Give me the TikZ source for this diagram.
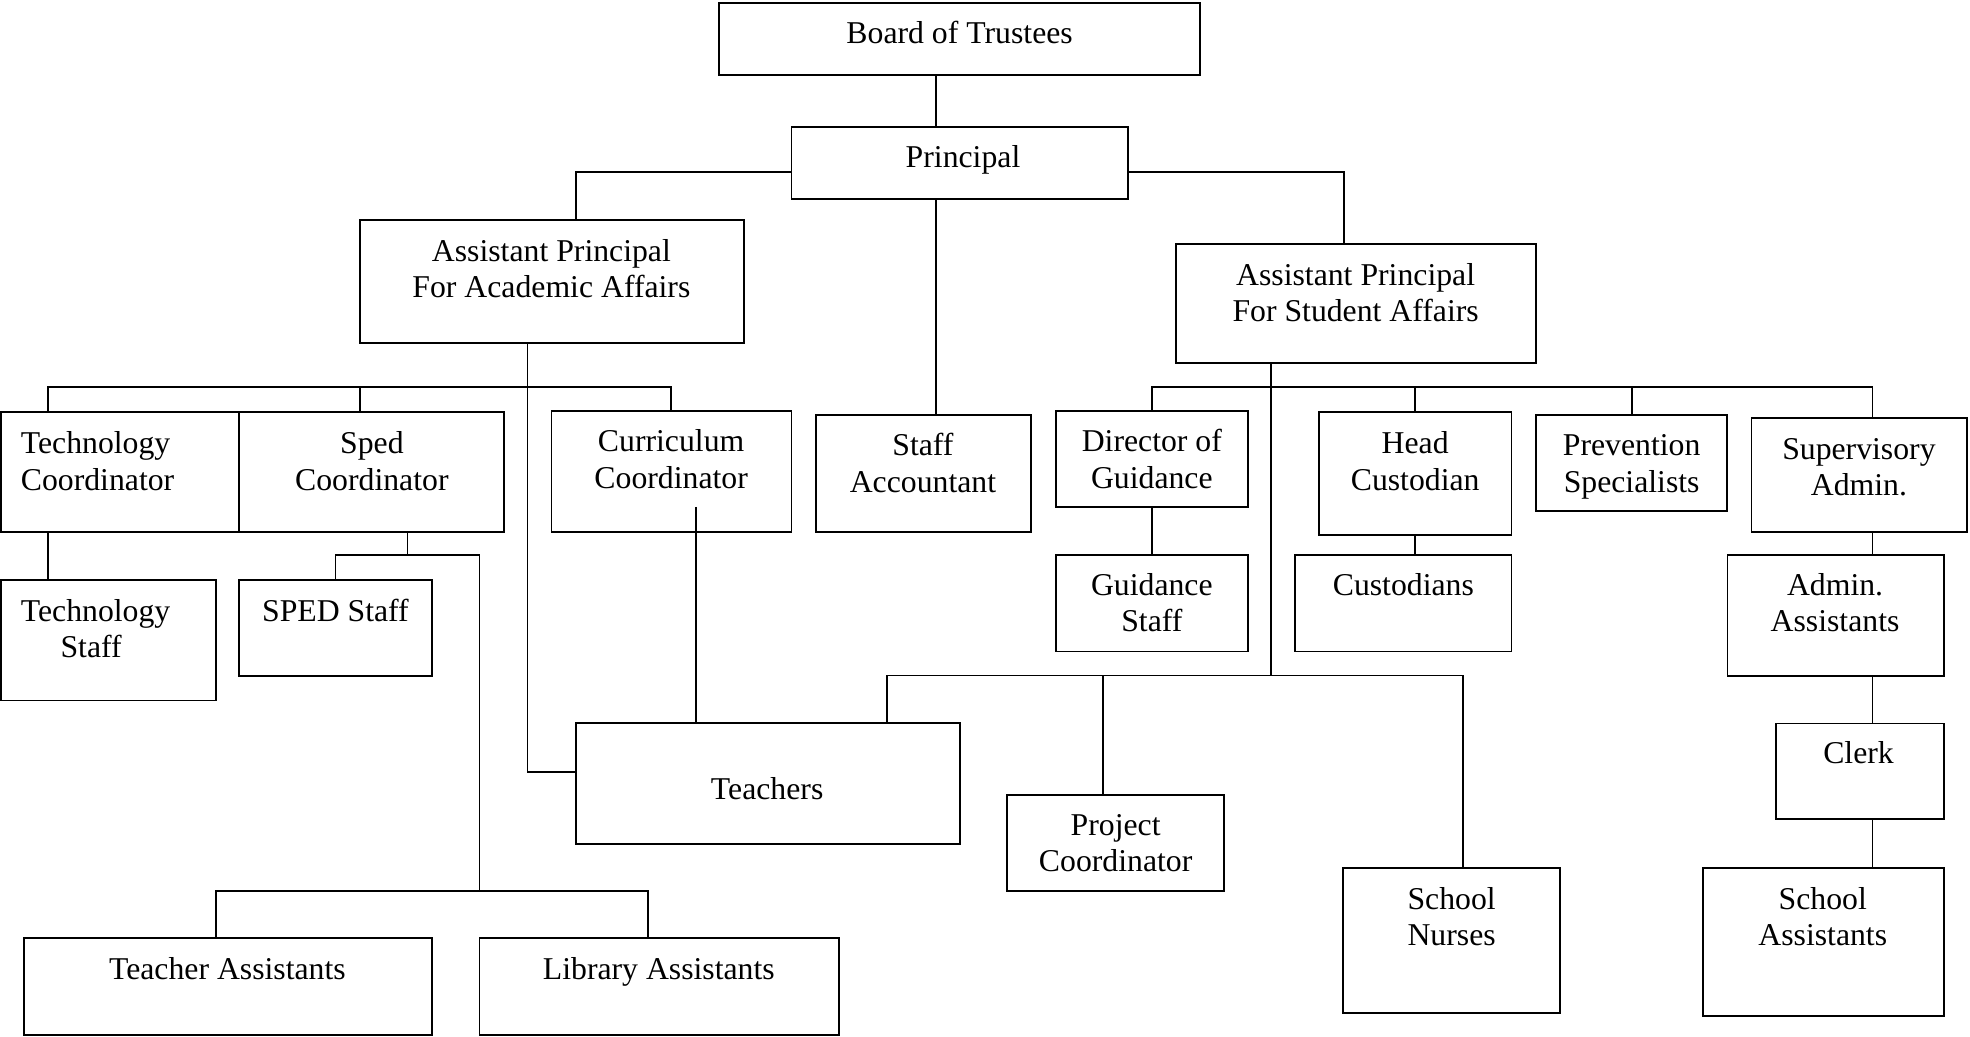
\documentclass[tikz,border=0pt]{standalone}
\usepackage{fontspec}
\setmainfont{Liberation Serif}
\usetikzlibrary{fit}
\newcommand\orgbox[5]{\node[box, fit={(#2,#3) (#4,#5)}] (#1) {};}
\newcommand\lbl[5][]{\node[txt,#1] (#2) at (#3,#4) {\strut #5};}
\begin{document}
\begin{tikzpicture}[x=0.475pt,y=-0.475pt,
  box/.style={draw, line width=0.7pt, inner sep=0pt, rectangle},
  link/.style={line width=0.7pt},
  txt/.style={inner sep=0pt, anchor=north, yshift=9.66pt, align=center, font=\fontsize{12}{13.8}\selectfont}]
\useasboundingbox (0,0) rectangle (1568,825);
% boxes
\orgbox{bt}{572.6}{2.6}{955}{59.7}
\orgbox{pr}{630}{100.8}{897.8}{158.4}
\orgbox{apa}{286.3}{175.1}{591.9}{272.7}
\orgbox{aps}{935.8}{194.5}{1222.3}{289.2}
\orgbox{tc}{0.8}{328.2}{190.4}{423.2}
\orgbox{sc}{190.4}{328.2}{401}{423.2}
\orgbox{cc}{439}{326.8}{630}{423.2}
\orgbox{sa}{649.2}{330.2}{820.5}{423.2}
\orgbox{ts}{0.8}{461.9}{171.6}{557.5}
\orgbox{ss}{190.4}{461.9}{343.7}{538.2}
\orgbox{ta}{18.8}{746.9}{343.7}{823.5}
\orgbox{la}{381.7}{746.9}{668}{823.5}
\orgbox{te}{458.4}{575.2}{763.9}{671.9}
\orgbox{dg}{840.3}{326.8}{993.4}{403.4}
\orgbox{gs}{840.3}{441.8}{993.4}{518.5}
\orgbox{hc}{1050}{328.2}{1203.1}{425.8}
\orgbox{cu}{1030.8}{441.8}{1203.1}{518.5}
\orgbox{ps}{1222.3}{330.2}{1374.9}{406.8}
\orgbox{sup}{1394.1}{332.5}{1565.5}{423.2}
\orgbox{aa}{1375}{441.8}{1547.3}{538.2}
\orgbox{cl}{1413.4}{575.8}{1547.3}{651.9}
\orgbox{pc}{801.8}{632.9}{974.1}{709.3}
\orgbox{sn}{1069.2}{690.9}{1241.5}{806}
\orgbox{sas}{1355.8}{690.9}{1547.3}{808.7}
% texts
\lbl{bt-t}{763.8}{34.5}{Board of Trustees}
\lbl{pr-t}{766.5}{132.7}{Principal}
\lbl{apa-t}{438.9}{207.7}{Assistant Principal\\For Academic Affairs}
\lbl{aps-t}{1079}{226.8}{Assistant Principal\\For Student Affairs}
\lbl[anchor=north west,align=left]{tc-t}{16.2}{360.8}{Technology\\Coordinator}
\lbl{sc-t}{296}{360.8}{Sped\\Coordinator}
\lbl{cc-t}{534.2}{359.1}{Curriculum\\Coordinator}
\lbl{sa-t}{734.6}{362.5}{Staff\\Accountant}
\lbl[anchor=north west,align=left]{ts-t}{16.2}{494.2}{Technology\\\hspace*{15pt}Staff}
\lbl{ss-t}{267}{494.2}{SPED Staff}
\lbl{ta-t}{181}{779.3}{Teacher Assistants}
\lbl{la-t}{524.4}{779.3}{Library Assistants}
\lbl{te-t}{610.6}{635.9}{Teachers}
\lbl{dg-t}{916.8}{359.1}{Director of\\Guidance}
\lbl{gs-t}{916.8}{473.2}{Guidance\\Staff}
\lbl{hc-t}{1126.4}{360.8}{Head\\Custodian}
\lbl{cu-t}{1117}{473.2}{Custodians}
\lbl{ps-t}{1298.7}{362.5}{Prevention\\Specialists}
\lbl{sup-t}{1479.6}{365.2}{Supervisory\\Admin.}
\lbl{aa-t}{1460.6}{473.2}{Admin.\\Assistants}
\lbl{cl-t}{1479.3}{607.5}{Clerk}
\lbl{pc-t}{888}{664.2}{Project\\Coordinator}
\lbl{sn-t}{1155.4}{723.3}{School\\Nurses}
\lbl{sas-t}{1450.8}{723.3}{School\\Assistants}
% junctions
\coordinate (busA) at (419.8,308.2);
\coordinate (scj) at (324.4,441.8);
\coordinate (busT) at (381.7,709.2);
\coordinate (ccin) at (553.8,403.4);
\coordinate (busS) at (1011.6,308.2);
\coordinate (busL) at (1011.6,537.6);
% connectors
\draw[link] (744.7,0 |- bt.south) -- (744.7,0 |- pr.north);
\draw[link] (pr.west |- 0,136.6) -| (458.4,0 |- apa.north);
\draw[link] (pr.east |- 0,136.6) -| (1069.8,0 |- aps.north);
\draw[link] (744.7,0 |- pr.south) -- (744.7,0 |- sa.north);
\draw[link] (419.8,0 |- apa.south) -- (busA);
\draw[link] (busA) -| (38.1,0 |- tc.north);
\draw[link] (busA) -| (286.3,0 |- sc.north);
\draw[link] (busA) -| (534.2,0 |- cc.north);
\draw[link] (busA) |- (te.west |- 0,614.2);
\draw[link] (38.1,0 |- tc.south) -- (38.1,0 |- ts.north);
\draw[link] (324.4,0 |- sc.south) -- (scj);
\draw[link] (scj) -| (267,0 |- ss.north);
\draw[link] (scj) -| (busT);
\draw[link] (busT) -| (171.6,0 |- ta.north);
\draw[link] (busT) -| (515.7,0 |- la.north);
\draw[link] (ccin) -- (553.8,0 |- te.north);
\draw[link] (1011.6,0 |- aps.south) -- (busS);
\draw[link] (busS) -| (916.6,0 |- dg.north);
\draw[link] (busS) -| (1126.3,0 |- hc.north);
\draw[link] (busS) -| (1298.8,0 |- ps.north);
\draw[link] (busS) -| (1490.4,0 |- sup.north);
\draw[link] (busS) -- (busL);
\draw[link] (busL) -| (706.1,0 |- te.north);
\draw[link] (busL) -| (878.2,0 |- pc.north);
\draw[link] (busL) -| (1164.7,0 |- sn.north);
\draw[link] (916.6,0 |- dg.south) -- (916.6,0 |- gs.north);
\draw[link] (1126.3,0 |- hc.south) -- (1126.3,0 |- cu.north);
\draw[link] (1490.4,0 |- sup.south) -- (1490.4,0 |- aa.north);
\draw[link] (1490.4,0 |- aa.south) -- (1490.4,0 |- cl.north);
\draw[link] (1490.4,0 |- cl.south) -- (1490.4,0 |- sas.north);
\end{tikzpicture}
\end{document}
